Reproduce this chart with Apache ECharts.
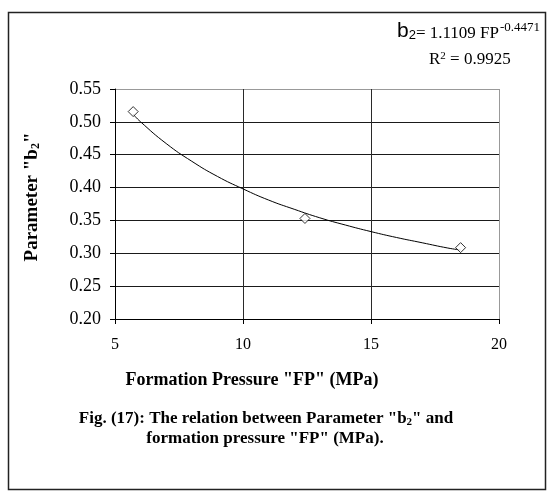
<!DOCTYPE html>
<html>
<head>
<meta charset="utf-8">
<script src="https://cdn.jsdelivr.net/npm/echarts@6/dist/echarts.min.js"></script>
<style>
html,body{margin:0;padding:0;background:#fff;}
#c{width:547px;height:491px;}
</style>
</head>
<body>
<div id="c"></div>
<script>
// Measured points (FP in MPa, b2)
const fpValues = [5.71, 12.42, 18.5];
const b2Values = [0.5156, 0.353, 0.3086];
// Trend line
const trendFP = [5.7, 6, 7, 8, 9, 10, 11, 12, 13, 14, 15, 16, 17, 18, 18.5];
const trendB2 = [0.512, 0.500, 0.467, 0.440, 0.417, 0.398, 0.381, 0.367, 0.354, 0.343, 0.333, 0.324, 0.316, 0.308, 0.305];
// Axis ticks
const xTicks = [5, 10, 15, 20];
const yTicks = [0.20, 0.25, 0.30, 0.35, 0.40, 0.45, 0.50, 0.55];

const serif = '"Liberation Serif", "DejaVu Serif", serif';
const sans = '"Liberation Sans", Arial, sans-serif';
const chart = echarts.init(document.getElementById('c'), null, {renderer: 'canvas'});

const pts = fpValues.map((x, i) => [x, b2Values[i]]);
const trend = trendFP.map((x, i) => [x, trendB2[i]]);

const xSplitColors = xTicks.map((t, i) => i === 0 ? '#000' : (i === xTicks.length - 1 ? '#999' : '#2a2a2a'));
const ySplitColors = yTicks.map((t, i) => i === 0 ? '#000' : (i === yTicks.length - 1 ? '#999' : '#1a1a1a'));

chart.setOption({
  animation: false,
  backgroundColor: '#fff',
  grid: {left: 115, right: 48, top: 89, bottom: 172, containLabel: false},
  xAxis: {
    type: 'value',
    min: xTicks[0], max: xTicks[xTicks.length - 1], interval: 5,
    axisLine: {show: true, onZero: false, lineStyle: {color: '#000', width: 1}},
    axisTick: {show: true, length: 5, lineStyle: {color: '#000'}},
    axisLabel: {color: '#000', fontFamily: serif, fontSize: 16, margin: 18},
    splitLine: {show: true, lineStyle: {color: xSplitColors, width: 1}}
  },
  yAxis: {
    type: 'value',
    min: 0.20, max: 0.55, interval: 0.05,
    axisLine: {show: true, onZero: false, lineStyle: {color: '#000', width: 1}},
    axisTick: {show: true, length: 5, lineStyle: {color: '#000'}},
    axisLabel: {color: '#000', fontFamily: serif, fontSize: 18, margin: 14,
      formatter: v => v.toFixed(2)},
    splitLine: {show: true, lineStyle: {color: ySplitColors, width: 1}}
  },
  series: [
    {
      type: 'line', data: trend, smooth: true, showSymbol: false, symbol: 'none',
      lineStyle: {color: '#000', width: 1}, z: 2
    },
    {
      type: 'scatter', data: pts, symbol: 'diamond', symbolSize: 10,
      itemStyle: {color: '#fff', borderColor: '#000', borderWidth: 1}, z: 3
    }
  ],
  graphic: [
    {type: 'rect', shape: {x: 8.5, y: 12.5, width: 537, height: 477},
      style: {fill: null, stroke: '#222', lineWidth: 1.5}, silent: true},
    // y-axis title
    {type: 'text', x: 32, y: 197, rotation: Math.PI / 2, silent: true,
      style: {
        x: 0, y: 0, align: 'center', verticalAlign: 'middle',
        rich: {
          a: {fontFamily: serif, fontSize: 19, fontWeight: 'bold', fill: '#000'},
          s: {fontFamily: serif, fontSize: 12, fontWeight: 'bold', fill: '#000', padding: [8, 0, 0, 0]}
        },
        text: '{a|Parameter "b}{s|2}{a|"}'
      }},
    // x-axis title
    {type: 'text', silent: true,
      style: {x: 252, y: 380, align: 'center', verticalAlign: 'middle',
        text: 'Formation Pressure "FP" (MPa)',
        fontFamily: serif, fontSize: 18, fontWeight: 'bold', fill: '#000'}},
    // equation
    {type: 'text', silent: true,
      style: {
        x: 397, y: 20,
        rich: {
          b: {fontFamily: sans, fontSize: 21, fill: '#000'},
          s: {fontFamily: sans, fontSize: 13, fill: '#000', padding: [9, 0, 0, 0]},
          t: {fontFamily: serif, fontSize: 17, fill: '#000', padding: [5, 0, 0, 0]},
          p: {fontFamily: serif, fontSize: 13, fill: '#000', padding: [0, 0, 6, 1]}
        },
        text: '{b|b}{s|2}{t|= 1.1109 FP}{p|-0.4471}'
      }},
    {type: 'text', silent: true,
      style: {
        x: 429, y: 51,
        rich: {
          t: {fontFamily: serif, fontSize: 17, fill: '#000'},
          p: {fontFamily: serif, fontSize: 11, fill: '#000', padding: [0, 0, 6, 0]}
        },
        text: '{t|R}{p|2}{t| = 0.9925}'
      }},
    // caption
    {type: 'text', silent: true,
      style: {
        x: 266, y: 419, align: 'center', verticalAlign: 'middle',
        rich: {
          a: {fontFamily: serif, fontSize: 17, fontWeight: 'bold', fill: '#000'},
          s: {fontFamily: serif, fontSize: 11, fontWeight: 'bold', fill: '#000', padding: [7, 0, 0, 0]}
        },
        text: '{a|Fig. (17): The relation between Parameter "b}{s|2}{a|" and}'
      }},
    {type: 'text', silent: true,
      style: {x: 265, y: 439, align: 'center', verticalAlign: 'middle',
        text: 'formation pressure "FP" (MPa).',
        fontFamily: serif, fontSize: 17, fontWeight: 'bold', fill: '#000'}}
  ]
});
</script>
</body>
</html>
